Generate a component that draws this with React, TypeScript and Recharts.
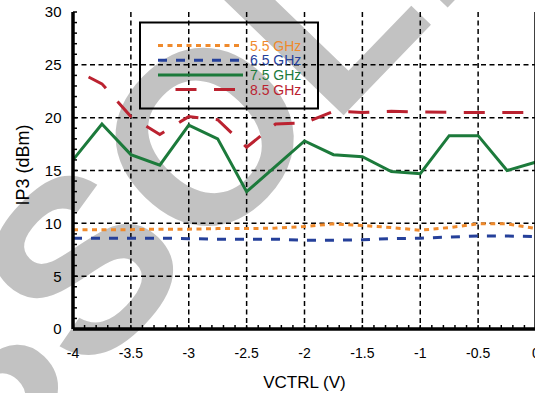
import React from "react";
import {
  LineChart,
  Line,
  XAxis,
  YAxis,
  CartesianGrid,
} from "recharts";

// VCTRL sweep (V)
const VCTRL = [-4, -3.75, -3.5, -3.25, -3, -2.75, -2.5, -2.25, -2, -1.75, -1.5, -1.25, -1, -0.75, -0.5, -0.25, 0];

// IP3 (dBm) per frequency
const IP3_5G5 = [9.4, 9.4, 9.4, 9.45, 9.45, 9.5, 9.5, 9.55, 9.7, 9.95, 9.8, 9.6, 9.35, 9.6, 9.95, 9.95, 9.5];
const IP3_6G5 = [8.6, 8.6, 8.6, 8.6, 8.55, 8.5, 8.5, 8.5, 8.4, 8.4, 8.45, 8.55, 8.6, 8.7, 8.8, 8.8, 8.75];
const IP3_7G5 = [16.0, 19.4, 16.5, 15.5, 19.3, 18.0, 13.0, 15.4, 17.8, 16.5, 16.3, 14.9, 14.7, 18.3, 18.3, 15.0, 15.8];
const IP3_8G5 = [24.6, 23.2, 20.1, 18.4, 20.1, 19.8, 17.2, 19.4, 19.5, 20.6, 20.5, 20.6, 20.55, 20.5, 20.5, 20.5, 20.5];

const X_LABEL_TICKS = [-4, -3.5, -3, -2.5, -2, -1.5, -1, -0.5, 0];
const Y_LABEL_TICKS = [0, 5, 10, 15, 20, 25, 30];
const X_GRID = [-3.5, -3, -2.5, -2, -1.5, -1, -0.5];
const Y_GRID = [5, 10, 15, 20, 25];

// minor ticks: every 0.1 V and every 1 dBm
const X_MINOR = Array.from({ length: 41 }, (_, i) => Math.round((-4 + i * 0.1) * 10) / 10);
const Y_MINOR = Array.from({ length: 31 }, (_, i) => i);

const SERIES = [
  { key: "f55", name: "5.5 GHz", color: "#ef8a2c", dash: "5 4.5", offset: 0 },
  { key: "f65", name: "6.5 GHz", color: "#25409a", dash: "9 9", offset: 0 },
  { key: "f75", name: "7.5 GHz", color: "#1c7a3b", dash: undefined, offset: 0 },
  { key: "f85", name: "8.5 GHz", color: "#bb2230", dash: "21 17.5", offset: 21 },
];

const rows = VCTRL.map((x, i) => ({
  x,
  f55: IP3_5G5[i],
  f65: IP3_6G5[i],
  f75: IP3_7G5[i],
  f85: IP3_8G5[i],
}));

const FONT = "'Liberation Sans', Arial, Helvetica, sans-serif";
const AXIS = { stroke: "#000", strokeWidth: 3.5 };
const TICK = { stroke: "#000", strokeWidth: 1.5 };

const isLabel = (v: number, list: number[]) => list.some((t) => Math.abs(t - v) < 1e-6);

const XTick = (props: any) => {
  const { x, y, payload } = props;
  if (!isLabel(payload.value, X_LABEL_TICKS)) return <g />;
  return (
    <text x={x} y={y} dy="0.71em" textAnchor="middle" fontSize={14} fill="#000" fontFamily={FONT}>
      {String(payload.value)}
    </text>
  );
};

const YTick = (props: any) => {
  const { x, y, payload } = props;
  if (!isLabel(payload.value, Y_LABEL_TICKS)) return <g />;
  return (
    <text x={x} y={y} dy="0.36em" textAnchor="end" fontSize={15} fill="#000" fontFamily={FONT}>
      {String(payload.value)}
    </text>
  );
};

function LegendBox() {
  return (
    <svg width={184} height={100} style={{ position: "absolute", left: 138, top: 20 }}>
      <rect x={2} y={2.5} width={178} height={86} fill="none" stroke="#000" strokeWidth={2} />
      {SERIES.map((s, i) => {
        const cy = 25.5 + i * 14.7;
        return (
          <g key={s.key}>
            <line
              x1={20}
              x2={105}
              y1={cy}
              y2={cy}
              stroke={s.color}
              strokeWidth={3}
              strokeDasharray={s.dash}
              strokeDashoffset={s.offset}
            />
            <text x={112} y={cy} dy="0.36em" fontSize={14} fill={s.color} fontFamily={FONT}>
              {s.name}
            </text>
          </g>
        );
      })}
    </svg>
  );
}

export default function App() {
  return (
    <div
      style={{
        position: "absolute",
        left: 0,
        top: 0,
        width: 535,
        height: 393,
        overflow: "hidden",
        background: "#fff",
        fontFamily: FONT,
      }}
    >
      <svg width={535} height={393} style={{ position: "absolute", left: 0, top: 0 }}>
        <text
          x={-169}
          y={646}
          transform="rotate(-46 -169 646)"
          fontSize={245}
          fontWeight="bold"
          fontFamily={FONT}
          fill="#c2c2c2"
        >
          OBSOLETE
        </text>
      </svg>
      <div style={{ position: "absolute", left: 0, top: 0 }}>
        <LineChart width={545} height={393} data={rows} margin={{ top: 12, right: 0, bottom: 0, left: 0 }}>
          <CartesianGrid
            stroke="#000"
            strokeWidth={1.5}
            strokeDasharray="5 3.5"
            verticalValues={X_GRID}
            horizontalValues={Y_GRID}
          />
          <XAxis
            dataKey="x"
            type="number"
            domain={[-4, 0]}
            ticks={X_MINOR}
            interval={0}
            height={64}
            tickSize={-4}
            tickMargin={23}
            tick={<XTick />}
            axisLine={AXIS}
            tickLine={TICK}
            label={{ value: "VCTRL (V)", position: "insideBottom", offset: 5, fontSize: 17, fill: "#000" }}
          />
          <XAxis
            xAxisId="top"
            orientation="top"
            dataKey="x"
            type="number"
            domain={[-4, 0]}
            ticks={X_MINOR}
            interval={0}
            height={0}
            tickSize={-4}
            tick={false}
            axisLine={AXIS}
            tickLine={TICK}
          />
          <YAxis
            type="number"
            domain={[0, 30]}
            ticks={Y_MINOR}
            interval={0}
            width={73}
            tickSize={-4}
            tickMargin={15.5}
            tick={<YTick />}
            axisLine={AXIS}
            tickLine={TICK}
            label={{
              content: () => (
                <text
                  x={23}
                  y={165}
                  transform="rotate(-90 23 165)"
                  textAnchor="middle"
                  dy="0.36em"
                  fontSize={18}
                  fill="#000"
                  fontFamily={FONT}
                >
                  IP3 (dBm)
                </text>
              ),
            }}
          />
          <YAxis
            yAxisId="right"
            orientation="right"
            type="number"
            domain={[0, 30]}
            ticks={Y_MINOR}
            interval={0}
            width={9}
            tickSize={-4}
            tick={false}
            axisLine={AXIS}
            tickLine={TICK}
          />
          {SERIES.map((s) => (
            <Line
              key={s.key}
              dataKey={s.key}
              name={s.name}
              type="linear"
              stroke={s.color}
              strokeWidth={3}
              strokeDasharray={s.dash}
              strokeDashoffset={s.offset}
              dot={false}
              activeDot={false}
              isAnimationActive={false}
            />
          ))}
        </LineChart>
      </div>
      <LegendBox />
    </div>
  );
}
